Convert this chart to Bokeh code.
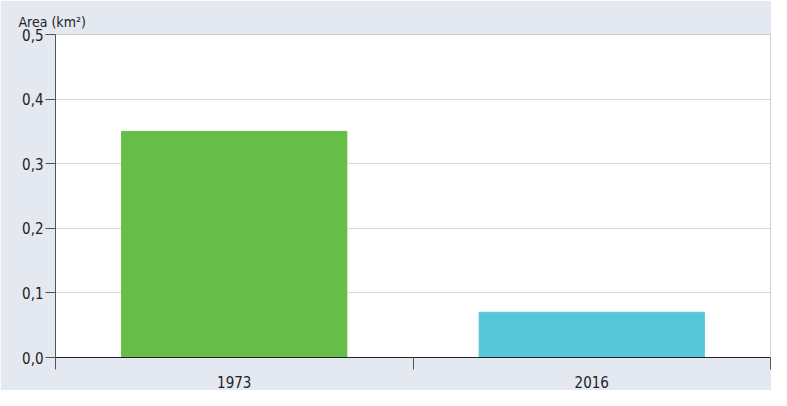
from bokeh.plotting import figure
from bokeh.models import FixedTicker, CustomJSTickFormatter, Range1d, ColumnDataSource
from bokeh.embed import file_html
from bokeh.resources import INLINE

years = ["1973", "2016"]
area = [0.35, 0.07]
colors = ["#66bd48", "#58c6d9"]
y_ticks = [0.0, 0.1, 0.2, 0.3, 0.4, 0.5]

FONT = "'Liberation Sans Narrow', 'DejaVu Sans Condensed', 'Roboto Condensed', Roboto, sans-serif"

xpos = [i + 0.5 for i in range(len(years))]
src = ColumnDataSource(dict(x=xpos, top=area, color=colors))

p = figure(width=771, height=390, output_backend="svg", toolbar_location=None,
           x_range=Range1d(0, len(years)), y_range=Range1d(0, 0.5),
           min_border_left=55, min_border_right=1, min_border_top=34,
           min_border_bottom=28)

p.vbar(x="x", top="top", bottom=0, width=0.63, color="color", source=src)

p.background_fill_color = "white"
p.border_fill_color = "#e4e8f1"
p.outline_line_color = "#cfcfcf"

p.title.text = "Area (km²)"
p.title.align = "left"
p.title.offset = -37
p.title.text_font = FONT
p.title.text_font_size = "14px"
p.title.text_font_style = "normal"
p.title.text_color = "#222222"
p.title.standoff = 10

# y axis
p.yaxis.ticker = FixedTicker(ticks=y_ticks, minor_ticks=[])
p.yaxis.formatter = CustomJSTickFormatter(code="return tick.toFixed(1).replace('.', ',');")
p.yaxis.major_tick_in = 0
p.yaxis.major_tick_out = 10
p.yaxis.minor_tick_out = 0
p.yaxis.axis_line_color = "#555555"
p.yaxis.major_tick_line_color = "#555555"
p.yaxis.major_label_text_font = FONT
p.yaxis.major_label_text_font_size = "15px"
p.yaxis.major_label_text_color = "#222222"
p.yaxis.major_label_standoff = 2

# x axis
p.xaxis.ticker = FixedTicker(ticks=xpos, minor_ticks=list(range(len(years) + 1)))
p.xaxis.major_label_overrides = {x: y for x, y in zip(xpos, years)}
p.xaxis.major_tick_in = 0
p.xaxis.major_tick_out = 0
p.xaxis.minor_tick_in = 0
p.xaxis.minor_tick_out = 12
p.xaxis.axis_line_color = "#222222"
p.xaxis.minor_tick_line_color = "#555555"
p.xaxis.major_label_text_font = FONT
p.xaxis.major_label_text_font_size = "15px"
p.xaxis.major_label_text_color = "#222222"
p.xaxis.major_label_standoff = 6

p.xgrid.grid_line_color = None
p.ygrid.grid_line_color = "#d6d6d6"
p.ygrid.ticker = FixedTicker(ticks=y_ticks)

open("out.html", "w").write(file_html(p, INLINE))
